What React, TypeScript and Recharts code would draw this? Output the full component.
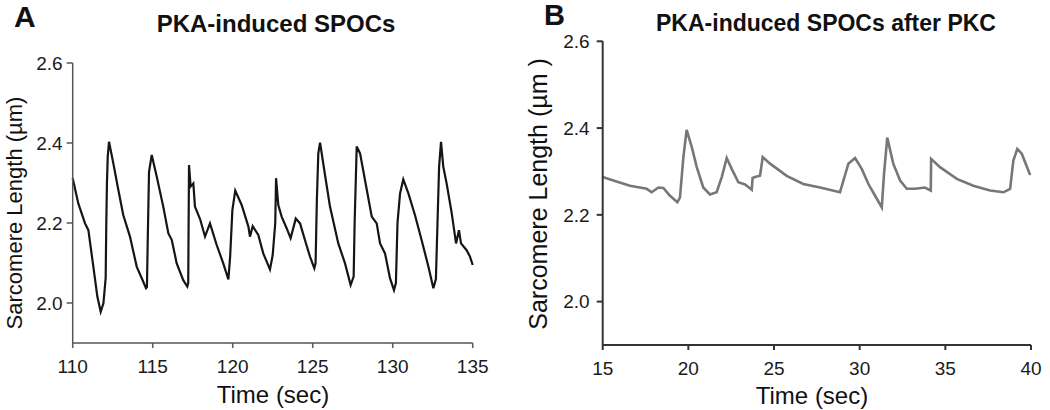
import React from "react";
import { LineChart, Line, XAxis, YAxis } from "recharts";

// Panel A: PKA-induced SPOCs (time in sec, sarcomere length in µm)
const timeA = [
  110.0, 110.35, 110.77, 110.98, 111.29, 111.54, 111.75, 111.92, 112.06, 112.1, 112.14, 112.19, 112.27,
  112.54, 112.85, 113.16, 113.58, 114.0, 114.37, 114.58, 114.64, 114.69, 114.77, 114.94,
  115.25, 115.66, 115.98, 116.19, 116.5, 116.91, 117.16, 117.22, 117.27, 117.37, 117.54, 117.64,
  117.96, 118.27, 118.58, 119.0, 119.41, 119.73, 119.84, 119.98, 120.16,
  120.56, 120.98, 121.08, 121.25, 121.6, 121.91, 122.33, 122.5, 122.66, 122.71, 122.85,
  123.06, 123.37, 123.62, 123.94, 124.21, 124.52, 124.83, 125.1, 125.18, 125.26, 125.35, 125.46,
  125.77, 126.08, 126.6, 127.02, 127.37, 127.56, 127.62, 127.75, 127.96,
  128.27, 128.69, 129.0, 129.21, 129.52, 129.83, 130.08, 130.2, 130.3, 130.46, 130.66,
  130.98, 131.39, 131.81, 132.23, 132.54, 132.7, 132.8, 132.9, 133.02,
  133.16, 133.37, 133.69, 133.96, 134.14, 134.27, 134.62, 134.83, 135.0,
];
const lengthA = [
  2.312, 2.249, 2.199, 2.182, 2.091, 2.016, 1.978, 1.999, 2.062, 2.2, 2.3, 2.366, 2.403,
  2.349, 2.283, 2.22, 2.166, 2.091, 2.057, 2.037, 2.04, 2.158, 2.328, 2.37,
  2.316, 2.241, 2.174, 2.158, 2.099, 2.057, 2.041, 2.05, 2.345, 2.291, 2.299, 2.241,
  2.21, 2.166, 2.199, 2.145, 2.099, 2.059, 2.116, 2.232, 2.281,
  2.245, 2.191, 2.166, 2.192, 2.17, 2.124, 2.084, 2.12, 2.2, 2.312, 2.245,
  2.216, 2.187, 2.162, 2.211, 2.199, 2.157, 2.116, 2.087, 2.1, 2.257, 2.374, 2.401,
  2.32, 2.241, 2.149, 2.099, 2.045, 2.066, 2.2, 2.391, 2.374,
  2.307, 2.216, 2.199, 2.149, 2.124, 2.062, 2.032, 2.05, 2.2, 2.274, 2.309,
  2.274, 2.22, 2.157, 2.091, 2.037, 2.06, 2.2, 2.341, 2.403,
  2.341, 2.299, 2.224, 2.149, 2.182, 2.149, 2.132, 2.116, 2.095,
];

// Panel B: PKA-induced SPOCs after PKC
const timeB = [
  15.0, 15.62, 16.59, 17.57, 17.86, 18.25, 18.54, 18.93, 19.36, 19.51, 19.71, 19.9,
  20.2, 20.49, 20.87, 21.26, 21.65, 21.95, 22.24, 22.53, 22.92, 23.31, 23.7, 23.75, 23.89,
  24.18, 24.22, 24.34, 24.77, 25.74, 26.71, 27.69, 28.85, 29.05, 29.34, 29.73,
  30.12, 30.51, 30.9, 31.29, 31.42, 31.61, 31.96, 32.36, 32.75, 33.23, 33.81, 34.15, 34.17,
  34.69, 35.67, 36.63, 37.61, 38.39, 38.78, 38.97, 39.2, 39.46, 39.95,
];
const lengthB = [
  2.287, 2.279, 2.267, 2.26, 2.252, 2.263, 2.262, 2.244, 2.229, 2.24, 2.333, 2.396,
  2.356, 2.31, 2.263, 2.247, 2.252, 2.287, 2.331, 2.306, 2.275, 2.27, 2.258, 2.285, 2.287,
  2.29, 2.3, 2.333, 2.318, 2.29, 2.271, 2.263, 2.252, 2.279, 2.318, 2.331,
  2.306, 2.271, 2.244, 2.217, 2.294, 2.378, 2.318, 2.279, 2.26, 2.26, 2.263, 2.256, 2.329,
  2.31, 2.283, 2.267, 2.256, 2.252, 2.26, 2.325, 2.352, 2.341, 2.292,
];

const yTicks = [2.0, 2.2, 2.4, 2.6];
const xTicksA = [110, 115, 120, 125, 130, 135];
const xTicksB = [15, 20, 25, 30, 35, 40];

const dataA = timeA.map((t, i) => ({ t, v: lengthA[i] }));
const dataB = timeB.map((t, i) => ({ t, v: lengthB[i] }));

const FONT = "'Liberation Sans', Arial, Helvetica, sans-serif";

export default function App() {
  const tickStyle = { fontSize: 19, fill: "#1a1a1a", fontFamily: FONT };
  return (
    <div style={{ position: "absolute", left: 0, top: 0, width: 1050, height: 410, background: "#fff", fontFamily: FONT }}>
      <div style={{ position: "absolute", left: 0, top: 0 }}>
        <LineChart width={520} height={410} data={dataA} margin={{ top: 63, right: 47.3, bottom: 27, left: 10.7 }}>
          <XAxis
            dataKey="t"
            type="number"
            domain={[110, 135]}
            ticks={xTicksA}
            height={40}
            tickSize={5}
            tickMargin={12}
            stroke="#555"
            strokeWidth={1.5}
            tick={tickStyle}
          />
          <YAxis
            type="number"
            domain={[1.9, 2.6]}
            ticks={yTicks}
            width={62}
            tickSize={6}
            tickMargin={4}
            stroke="#555"
            strokeWidth={1.5}
            tick={tickStyle}
            tickFormatter={(v: number) => v.toFixed(1)}
          />
          <Line dataKey="v" type="linear" stroke="#151515" strokeWidth={2.2} dot={false} isAnimationActive={false} />
        </LineChart>
      </div>
      <div style={{ position: "absolute", left: 520, top: 0 }}>
        <LineChart width={530} height={410} data={dataB} margin={{ top: 41.3, right: 19, bottom: 25, left: 20.7 }}>
          <XAxis
            dataKey="t"
            type="number"
            domain={[15, 40]}
            ticks={xTicksB}
            height={40}
            tickSize={5}
            tickMargin={12}
            stroke="#333"
            strokeWidth={2}
            tick={tickStyle}
          />
          <YAxis
            type="number"
            domain={[1.9, 2.6]}
            ticks={yTicks}
            width={62}
            tickSize={6}
            tickMargin={7}
            stroke="#333"
            strokeWidth={2}
            tick={tickStyle}
            tickFormatter={(v: number) => v.toFixed(1)}
          />
          <Line dataKey="v" type="linear" stroke="#777" strokeWidth={2.6} dot={false} isAnimationActive={false} />
        </LineChart>
      </div>
      <svg width={1050} height={410} style={{ position: "absolute", left: 0, top: 0, pointerEvents: "none" }}>
        <g fontFamily={FONT} fill="#111">
          <text x={14} y={27} fontSize={30} fontWeight="bold">A</text>
          <text x={544} y={25} fontSize={29} fontWeight="bold">B</text>
          <text x={276} y={32} fontSize={24} fontWeight="bold" textAnchor="middle">PKA-induced SPOCs</text>
          <text x={826} y={31} fontSize={23} fontWeight="bold" textAnchor="middle">PKA-induced SPOCs after PKC</text>
          <text x={273} y={403} fontSize={24} textAnchor="middle">Time (sec)</text>
          <text x={812} y={404} fontSize={24} textAnchor="middle">Time (sec)</text>
          <text transform="translate(22,213) rotate(-90)" fontSize={22} textAnchor="middle">Sarcomere Length (µm)</text>
          <text transform="translate(547,194) rotate(-90)" fontSize={25} textAnchor="middle">Sarcomere Length (µm )</text>
        </g>
      </svg>
    </div>
  );
}
